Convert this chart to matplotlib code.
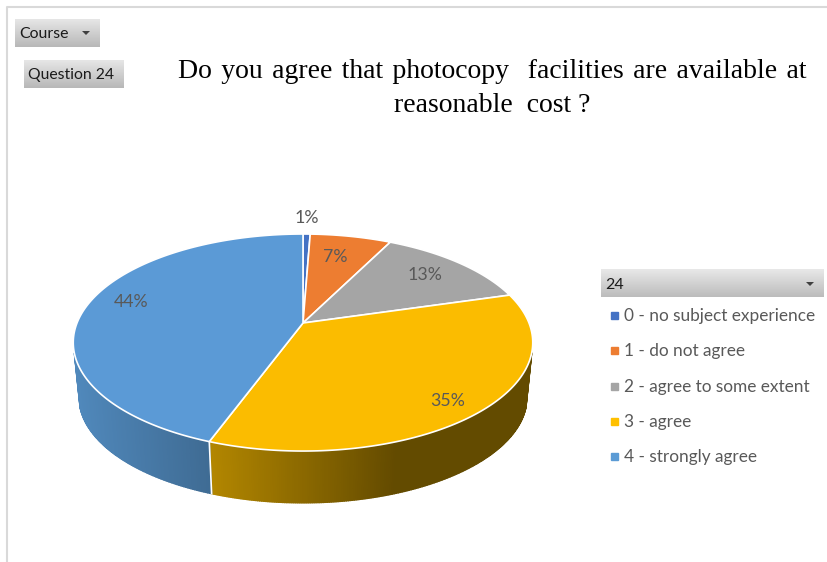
import numpy as np
import matplotlib
matplotlib.use("Agg")
import matplotlib.pyplot as plt
from matplotlib.patches import Rectangle, Polygon

categories = ["0 - no subject experience", "1 - do not agree", "2 - agree to some extent",
              "3 - agree", "4 - strongly agree"]
values = [0.6, 6.8, 13.1, 35.1, 44.4]
colors = ["#4472c4", "#ed7d31", "#a5a5a5", "#ffc000", "#5b9bd5"]
top_colors = ["#4472c4", "#ed7d31", "#a5a5a5", "#fbbc00", "#5b9ad6"]
title_lines = ["Do you agree that photocopy  facilities are available at", "reasonable  cost ?"]
label_pos = [(307, 218), (335, 257), (425, 275), (448, 401), (131, 302)]

# pie geometry in pixels, with a simple perspective
CX, CY = 303, 323
P = 0.18
F, G = 226, 105
DEPTH = 55
BOTTOM_SCALE = 0.975


def rim(frac):
    a = np.asarray(frac) * 2 * np.pi
    u, v = np.sin(a), np.cos(a)
    d = 1 + P * v
    return F * u / d, G * -v / d


def gradient_box(ax, x0, y0, x1, y1, c0, c1):
    g = np.linspace(0, 1, 32).reshape(-1, 1, 1)
    img = np.array(matplotlib.colors.to_rgb(c0)) * (1 - g) + np.array(matplotlib.colors.to_rgb(c1)) * g
    ax.imshow(img, extent=(x0, x1, y1, y0), aspect="auto", zorder=1, interpolation="bilinear")


def triangle(ax, x, y):
    ax.add_patch(Polygon([(x - 4, y - 2), (x + 4, y - 2), (x, y + 2)], facecolor="#404040", lw=0, zorder=3))


fig = plt.figure(figsize=(8.28, 5.62), dpi=100)
ax = fig.add_axes([0, 0, 1, 1])
ax.set_xlim(0, 828)
ax.set_ylim(562, 0)
ax.axis("off")

# outer frame
ax.plot([7, 7, 828], [562, 7, 7], color="#d9d9d9", lw=1.5)

cum = np.cumsum([0] + values) / sum(values)

# side wall, one thin strip per step so the shading can follow x
for i in range(len(values)):
    fr = np.linspace(cum[i], cum[i + 1], max(4, int(values[i] * 8)))
    dx, dy = rim(fr)
    for j in range(len(fr) - 1):
        if dy[j] < 30 and dy[j + 1] < 30:
            continue
        xt, yt = dx[j:j + 2] + CX, dy[j:j + 2] + CY
        xb = dx[j:j + 2] * BOTTOM_SCALE + CX
        yb = dy[j:j + 2] * BOTTOM_SCALE + CY + DEPTH
        base = np.array(matplotlib.colors.to_rgb(colors[i]))
        if i == 3:
            shade = max(0.39, 0.70 - 0.31 * (xt.mean() - 210) / 185)
        else:
            shade = 0.88 - 0.19 * (xt.mean() - 73) / 137
        ax.fill([xt[0], xt[1], xb[1], xb[0]], [yt[0], yt[1], yb[1], yb[0]],
                color=base * shade, lw=1.0, zorder=2)
    # white seam between slices on the wall
    x0, y0 = rim(cum[i])
    if y0 > 0:
        ax.plot([x0 + CX, x0 * BOTTOM_SCALE + CX], [y0 + CY, y0 * BOTTOM_SCALE + CY + DEPTH],
                color="white", lw=1.2, zorder=3)

# top face
for i in range(len(values)):
    fr = np.linspace(cum[i], cum[i + 1], max(4, int(values[i] * 8)))
    dx, dy = rim(fr)
    ax.add_patch(Polygon(np.r_[[[CX, CY]], np.c_[dx + CX, dy + CY]], closed=True,
                         facecolor=top_colors[i], edgecolor="white", lw=1.2, zorder=4))

# percent labels
for i in range(len(values)):
    ax.text(label_pos[i][0], label_pos[i][1], "%d%%" % round(values[i]), ha="center", va="center",
            fontsize=12.8, family="Lato", color="#595959", zorder=5)

# title
ax.text(492, 71, title_lines[0].replace(" ", " \u200a"), ha="center", va="center", fontsize=20,
        family="Liberation Serif", color="black")
ax.text(492, 105, title_lines[1], ha="center", va="center", fontsize=20, family="Liberation Serif", color="black")

# slicer buttons
gradient_box(ax, 15, 19, 100, 47, "#e6e6e6", "#b8b8b8")
ax.text(19, 34, "Course", va="center", fontsize=11.4, family="Lato", color="#1a1a1a", zorder=3)
triangle(ax, 86, 33)
gradient_box(ax, 24, 60, 124, 88, "#e6e6e6", "#b8b8b8")
ax.text(28, 75, "Question 24", va="center", fontsize=11.3, family="Lato", color="#1a1a1a", zorder=3)

# legend
gradient_box(ax, 601, 269, 824, 297, "#e8e8e8", "#bcbcbc")
ax.text(605, 285, "24", va="center", fontsize=11.5, family="Lato", color="#1a1a1a", zorder=3)
triangle(ax, 810, 284)
leg_y = [315, 350, 386, 421, 456]
for c, name, y in zip(colors, categories, leg_y):
    ax.add_patch(Rectangle((611, y - 3), 7, 7, color=c, zorder=3))
    ax.text(624, y + 1, name, va="center", fontsize=12.4, family="Lato", color="#595959", zorder=3)

ax.set_xlim(0, 828)
ax.set_ylim(562, 0)
fig.savefig("out.png", dpi=100)
